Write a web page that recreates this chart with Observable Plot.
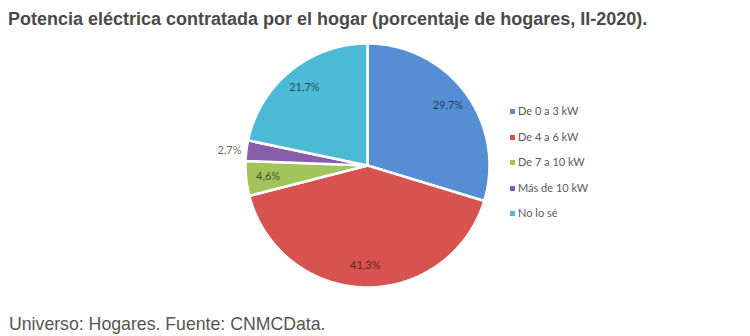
<!DOCTYPE html>
<html><head><meta charset="utf-8">
<script src="https://cdn.jsdelivr.net/npm/d3@7"></script>
<script src="https://cdn.jsdelivr.net/npm/@observablehq/plot@0.6"></script>
<style>
body{margin:0;background:#fff;width:750px;height:336px;overflow:hidden;position:relative;font-family:"Liberation Sans",Arial,sans-serif}
#title{position:absolute;left:8px;top:10px;font-size:18px;line-height:18px;font-weight:bold;color:#4a4a4a;white-space:nowrap}
#chart{position:absolute;left:0;top:32px}
#caption{position:absolute;left:9px;top:316px;font-size:17.7px;line-height:17.7px;color:#555;white-space:nowrap}
#legend{position:absolute;left:510px;top:104px;font-family:Lato,"Open Sans",sans-serif;font-size:11px;color:#595959}
#legend div{height:25.5px;display:flex;align-items:flex-start}
#legend span.sw{display:inline-block;width:5px;height:5px;margin:5px 3px 0 0}
</style></head>
<body>
<div id="title">Potencia eléctrica contratada por el hogar (porcentaje de hogares, II-2020).</div>
<div id="chart"></div>
<div id="legend"></div>
<div id="caption">Universo: Hogares. Fuente: CNMCData.</div>
<script>
const categories = ["De 0 a 3 kW", "De 4 a 6 kW", "De 7 a 10 kW", "Más de 10 kW", "No lo sé"];
const values = [29.7, 41.3, 4.6, 2.7, 21.7];
const labels = ["29,7%", "41,3%", "4,6%", "2,7%", "21,7%"];
const colors = ["#558ed3", "#d65350", "#a2c45a", "#875eac", "#4cbad4"];

const W = 750, H = 274, cx = 367, cy = 133, R = 122;
const data = categories.map((c, i) => ({cat: c, value: values[i], label: labels[i]}));
const arcs = d3.pie().sort(null).value(d => d.value)(data);

const pts = [];
for (const a of arcs) {
  pts.push({cat: a.data.cat, x: 0, y: 0});
  const n = Math.max(4, Math.ceil((a.endAngle - a.startAngle) * 80));
  for (let k = 0; k <= n; k++) {
    const t = a.startAngle + (a.endAngle - a.startAngle) * k / n;
    pts.push({cat: a.data.cat, x: Math.sin(t), y: Math.cos(t)});
  }
  pts.push({cat: a.data.cat, x: 0, y: 0});
}
const lab = arcs.map(a => {
  const m = (a.startAngle + a.endAngle) / 2;
  const out = a.data.value < 3;
  const r = out ? 1.04 : 0.82;
  return {label: a.data.label, x: r * Math.sin(m), y: r * Math.cos(m), anchor: out ? "end" : "middle"};
});

const chart = Plot.plot({
  width: W, height: H, margin: 0,
  x: {domain: [-cx / R, (W - cx) / R], range: [0, W], axis: null},
  y: {domain: [cy / R, -(H - cy) / R], range: [0, H], axis: null},
  color: {domain: categories, range: colors},
  marks: [
    Plot.line(pts, {x: "x", y: "y", z: "cat", fill: "cat", stroke: "white", strokeWidth: 2.5, strokeLinejoin: "round", curve: "linear"}),
    Plot.text(lab.filter(d => d.anchor === "middle"), {x: "x", y: "y", text: "label", fill: "black", fillOpacity: 0.62, fontSize: 11, fontFamily: "Lato, 'Open Sans', sans-serif", textAnchor: "middle"}),
    Plot.text(lab.filter(d => d.anchor === "end"), {x: "x", y: "y", text: "label", fill: "black", fillOpacity: 0.62, fontSize: 11, fontFamily: "Lato, 'Open Sans', sans-serif", textAnchor: "end"})
  ]
});
document.getElementById("chart").appendChild(chart);

const leg = document.getElementById("legend");
categories.forEach((c, i) => {
  const d = document.createElement("div");
  d.innerHTML = `<span class="sw" style="background:${colors[i]}"></span><span>${c}</span>`;
  leg.appendChild(d);
});
</script>
</body></html>
